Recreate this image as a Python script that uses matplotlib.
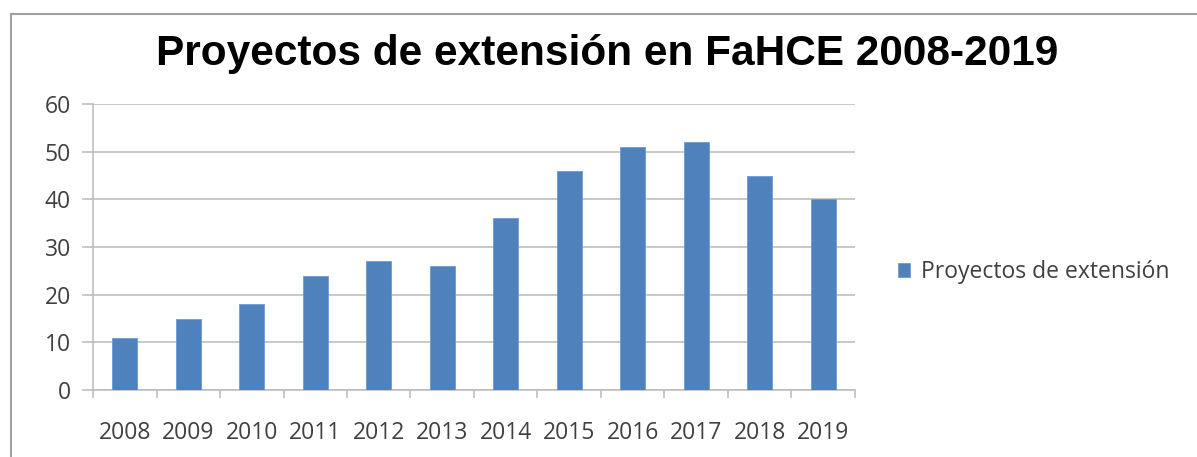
import matplotlib.pyplot as plt
from matplotlib.lines import Line2D

# data
years = ["2008", "2009", "2010", "2011", "2012", "2013",
         "2014", "2015", "2016", "2017", "2018", "2019"]
proyectos = [11, 15, 18, 24, 27, 26, 36, 46, 51, 52, 45, 40]
y_ticks = [0, 10, 20, 30, 40, 50, 60]

BAR_COLOR = "#4F81BD"
GRID_COLOR = "#BFBFBF"
TEXT_COLOR = "#404040"
W, H = 1197, 457

fig = plt.figure(figsize=(W / 100, H / 100), dpi=100)
fig.patch.set_facecolor("white")

# plot area in pixels: x 93..855, y 104..390
ax = fig.add_axes([93 / W, 1 - 390 / H, (855 - 93) / W, (390 - 104) / H])

x = list(range(len(years)))
ax.bar(x, proyectos, width=0.4, color=BAR_COLOR, edgecolor="#6F9BD0",
       linewidth=0.6, label="Proyectos de extensión", zorder=3)

ax.set_xlim(-0.5, len(years) - 0.5)
ax.set_ylim(0, 60)
ax.set_yticks(y_ticks)
ax.yaxis.grid(True, color=GRID_COLOR, linewidth=1.2, zorder=0)
ax.set_axisbelow(True)

for side in ["top", "right"]:
    ax.spines[side].set_visible(False)
ax.spines["left"].set_color(GRID_COLOR)
ax.spines["bottom"].set_color(GRID_COLOR)
ax.spines["left"].set_linewidth(1.2)
ax.spines["bottom"].set_linewidth(1.2)

# category labels centered, tick marks at category boundaries
ax.set_xticks(x)
ax.set_xticklabels(years)
ax.set_xticks([i - 0.5 for i in range(len(years) + 1)], minor=True)
ax.tick_params(axis="x", which="major", length=0, pad=22,
               labelsize=16.5, labelcolor=TEXT_COLOR)
ax.tick_params(axis="x", which="minor", length=6, width=1.2, color=GRID_COLOR)
ax.tick_params(axis="y", length=8, width=1.2, color=GRID_COLOR, pad=8,
               labelsize=16.5, labelcolor=TEXT_COLOR)
for lbl in ax.get_xticklabels() + ax.get_yticklabels():
    lbl.set_family("Open Sans")

fig.text(607 / W, 1 - 54 / H, "Proyectos de extensión en FaHCE 2008-2019",
         ha="center", va="center", fontsize=30.5, fontweight="bold",
         family="Liberation Sans", color="black")

leg = ax.legend(loc="center left", bbox_to_anchor=(877 / W, 1 - 272 / H),
                bbox_transform=fig.transFigure, frameon=False,
                prop={"family": "Open Sans", "size": 16.5},
                handlelength=0.55, handleheight=0.55, handletextpad=0.45)
for t in leg.get_texts():
    t.set_color(TEXT_COLOR)

# outer chart border (top and left edges visible)
fig.add_artist(Line2D([11 / W, 1], [1 - 14 / H, 1 - 14 / H],
                      transform=fig.transFigure, color="#A0A0A0", linewidth=1.5))
fig.add_artist(Line2D([11 / W, 11 / W], [0, 1 - 14 / H],
                      transform=fig.transFigure, color="#A0A0A0", linewidth=1.5))

fig.savefig("out.png", dpi=100)
